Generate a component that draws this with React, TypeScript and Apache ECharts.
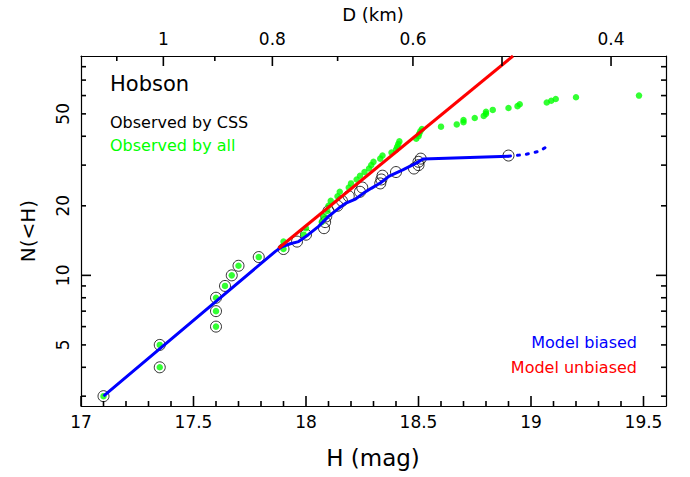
import React, { useEffect, useRef } from "react";
import * as echarts from "echarts";

// ---- axis ranges, ticks and labels ----
const X_MIN = 17;
const X_MAX = 19.6;
const Y_MIN = 2.72;
const Y_MAX = 89;
const xMajorTicks = [17, 17.5, 18, 18.5, 19, 19.5];
const xTickLabels = ["17", "17.5", "18", "18.5", "19", "19.5"];
const yLabelValues = [5, 10, 20, 50];
const yTickLabels = ["5", "10", "20", "50"];
const yMajorTicks = [10];
const yMinorTicks = [3, 4, 5, 6, 7, 8, 9, 20, 30, 40, 50, 60, 70, 80];
const dLabelValues = [1, 0.8, 0.6, 0.4];
const dTickLabels = ["1", "0.8", "0.6", "0.4"];
const dMajorTicks = [1, 0.8, 0.6, 0.5, 0.4];
const dMinorTicks = [1.1, 0.9, 0.7];
const H_AT_1KM = 17.366; // H corresponding to D = 1 km

// ---- Observed by CSS (open circles) ----
const cssH = [17.1, 17.35, 17.35, 17.6, 17.6, 17.6, 17.64, 17.67, 17.7, 17.79, 17.9, 17.96, 18.0, 18.08, 18.085, 18.09, 18.1, 18.14, 18.16, 18.19, 18.24, 18.25, 18.33, 18.335, 18.34, 18.4, 18.48, 18.5, 18.5, 18.51, 18.9];
const cssN = [3, 4, 5, 6, 7, 8, 9, 10, 11, 12, 13, 14, 15, 16, 17, 18, 19, 20, 21, 22, 23, 24, 25, 26, 27, 28, 29, 30, 31, 32, 33];

// ---- Observed by all (green dots) ----
const allH = [17.1, 17.35, 17.35, 17.6, 17.6, 17.6, 17.64, 17.67, 17.7, 17.79, 17.9, 17.9, 17.99, 18.0, 18.07, 18.08, 18.095, 18.1, 18.11, 18.14, 18.15, 18.19, 18.2, 18.225, 18.24, 18.26, 18.28, 18.29, 18.3, 18.33, 18.34, 18.38, 18.4, 18.405, 18.41, 18.415, 18.49, 18.5, 18.503, 18.508, 18.515, 18.6, 18.67, 18.7, 18.7, 18.75, 18.79, 18.8, 18.8, 18.83, 18.9, 18.94, 18.95, 19.07, 19.09, 19.11, 19.2, 19.48];
const allN = [3, 4, 5, 6, 7, 8, 9, 10, 11, 12, 13, 14, 15, 16, 17, 18, 19, 20, 21, 22, 23, 24, 25, 26, 27, 28, 29, 30, 31, 32, 33, 34, 35, 36, 37, 38, 39, 40, 41, 42, 43, 44, 45, 46, 47, 48, 49, 50, 51, 52, 53, 54, 55, 56, 57, 58, 59, 60];

// ---- Model biased (blue) ----
const biasedH = [17.1, 17.864, 17.893, 17.93, 17.967, 18.01, 18.056, 18.1, 18.145, 18.18, 18.22, 18.256, 18.29, 18.33, 18.37, 18.43, 18.49, 18.52, 18.9];
const biasedN = [3.0, 12.7, 13.3, 13.7, 14.0, 15.0, 16.3, 18.0, 19.5, 20.6, 21.4, 22.7, 23.8, 25.1, 26.9, 28.6, 30.6, 31.9, 32.8];
const biasedExtH = [18.9, 18.93, 18.97, 19.0, 19.04, 19.07];
const biasedExtN = [32.8, 33.0, 33.3, 33.8, 34.5, 36.1];

// ---- Model unbiased (red) ----
const unbiasedH = [17.878, 18.92];
const unbiasedN = [13.1, 89];

const pair = (xs: number[], ys: number[]) => xs.map((x, i) => [x, ys[i]]);
const nearestLabel = (v: number, vals: number[], labels: string[]) => {
  let best = 0;
  for (let i = 1; i < vals.length; i++) {
    if (Math.abs(vals[i] - v) < Math.abs(vals[best] - v)) best = i;
  }
  return labels[best];
};

export default function App() {
  const ref = useRef<HTMLDivElement>(null);
  useEffect(() => {
    document.body.style.margin = "0";
    const chart = echarts.init(ref.current!, null, { renderer: "svg" });
    const font = "DejaVu Sans";
    const black = "#000000";
    const lineStyle = { color: black, width: 1.2 };
    const hOfD = (d: number) => H_AT_1KM - 5 * Math.log10(d);
    const xMinorTicks: number[] = [];
    for (let k = 171; k <= 195; k++) if (k % 5 !== 0) xMinorTicks.push(k / 10);

    const MAJ = 10;
    const MIN = 5;
    // [x, y, tick length, direction]: 0 bottom(up), 1 top(down), 2 left(right), 3 right(left)
    const tickData: number[][] = [
      ...xMajorTicks.map((v) => [v, Y_MIN, MAJ, 0]),
      ...xMinorTicks.map((v) => [v, Y_MIN, MIN, 0]),
      ...dMajorTicks.map((d) => [hOfD(d), Y_MAX, MAJ, 1]),
      ...dMinorTicks.map((d) => [hOfD(d), Y_MAX, MIN, 1]),
      ...yMajorTicks.map((v) => [X_MIN, v, MAJ, 2]),
      ...yMinorTicks.map((v) => [X_MIN, v, MIN, 2]),
      ...yMajorTicks.map((v) => [X_MAX, v, MAJ, 3]),
      ...yMinorTicks.map((v) => [X_MAX, v, MIN, 3]),
    ];

    const baseX = { type: "value", min: X_MIN, max: X_MAX, splitLine: { show: false }, minorTick: { show: false } };
    const baseY = { type: "log", logBase: 10, min: Y_MIN, max: Y_MAX, splitLine: { show: false }, minorTick: { show: false } };

    const textGraphics = [
      { type: "text", x: 373, y: 14, style: { text: "D (km)", font: `18px '${font}'`, fill: black, textAlign: "center", textVerticalAlign: "middle" } },
      { type: "text", x: 373, y: 458, style: { text: "H (mag)", font: `23px '${font}'`, fill: black, textAlign: "center", textVerticalAlign: "middle" } },
      { type: "text", x: 28, y: 231, rotation: Math.PI / 2, style: { text: "N(<H)", font: `20px '${font}'`, fill: black, textAlign: "center", textVerticalAlign: "middle" } },
      { type: "text", x: 110, y: 84, style: { text: "Hobson", font: `21px '${font}'`, fill: black, textAlign: "left", textVerticalAlign: "middle" } },
      { type: "text", x: 110, y: 122, style: { text: "Observed by CSS", font: `16px '${font}'`, fill: black, textAlign: "left", textVerticalAlign: "middle" } },
      { type: "text", x: 110, y: 145, style: { text: "Observed by all", font: `16px '${font}'`, fill: "#00ff00", textAlign: "left", textVerticalAlign: "middle" } },
      { type: "text", x: 637, y: 342, style: { text: "Model biased", font: `16px '${font}'`, fill: "#0000ff", textAlign: "right", textVerticalAlign: "middle" } },
      { type: "text", x: 637, y: 367, style: { text: "Model unbiased", font: `16px '${font}'`, fill: "#ff0000", textAlign: "right", textVerticalAlign: "middle" } },
    ];

    const option: any = {
      animation: false,
      backgroundColor: "#ffffff",
      grid: { left: 81, top: 56, width: 585, height: 350, outerBoundsMode: "none", containLabel: false },
      xAxis: [
        {
          ...baseX, position: "bottom",
          axisLine: { show: true, onZero: false, lineStyle },
          axisTick: { show: false },
          axisLabel: {
            show: true, customValues: xMajorTicks, margin: 7, fontSize: 17, fontFamily: font, color: black,
            formatter: (v: number) => nearestLabel(v, xMajorTicks, xTickLabels),
          },
        },
        {
          ...baseX, position: "top",
          axisLine: { show: true, onZero: false, lineStyle },
          axisTick: { show: false },
          axisLabel: {
            show: true, customValues: dLabelValues.map(hOfD), margin: 9, fontSize: 17, fontFamily: font, color: black,
            formatter: (v: number) => nearestLabel(v, dLabelValues.map(hOfD), dTickLabels),
          },
        },
      ],
      yAxis: [
        {
          ...baseY, position: "left",
          axisLine: { show: true, onZero: false, lineStyle },
          axisTick: { show: false },
          axisLabel: {
            show: true, customValues: yLabelValues, rotate: 90, margin: 10, fontSize: 17, fontFamily: font, color: black,
            formatter: (v: number) => nearestLabel(v, yLabelValues, yTickLabels),
          },
        },
        {
          ...baseY, position: "right",
          axisLine: { show: true, onZero: false, lineStyle },
          axisTick: { show: false },
          axisLabel: { show: false },
        },
      ],
      series: [
        {
          name: "Observed by CSS", type: "scatter", xAxisIndex: 0, yAxisIndex: 0,
          data: pair(cssH, cssN), symbol: "circle", symbolSize: 11,
          itemStyle: { color: "rgba(255,255,255,0)", borderColor: black, borderWidth: 1 },
          emphasis: { disabled: true }, z: 2,
        },
        {
          name: "Observed by all", type: "scatter", xAxisIndex: 0, yAxisIndex: 0,
          data: pair(allH, allN), symbol: "circle", symbolSize: 6.5,
          itemStyle: { color: "#00ff00" }, emphasis: { disabled: true }, z: 3,
        },
        {
          name: "Model biased", type: "line", xAxisIndex: 0, yAxisIndex: 0,
          data: pair(biasedH, biasedN), showSymbol: false, symbol: "none",
          lineStyle: { color: "#0000ff", width: 3 }, z: 4,
        },
        {
          name: "Model biased (extrapolated)", type: "line", xAxisIndex: 0, yAxisIndex: 0,
          data: pair(biasedExtH, biasedExtN), showSymbol: false, symbol: "none",
          lineStyle: { color: "#0000ff", width: 3, type: [2, 7], cap: "round" }, z: 4,
        },
        {
          name: "Model unbiased", type: "line", xAxisIndex: 0, yAxisIndex: 0,
          data: pair(unbiasedH, unbiasedN), showSymbol: false, symbol: "none",
          lineStyle: { color: "#ff0000", width: 3 }, z: 5,
        },
      ],
      graphic: textGraphics,
    };
    chart.setOption(option);

    // tick marks positioned through the chart's own scales
    const tickGraphics = tickData.map(([x, y, len, dir]) => {
      const p = chart.convertToPixel({ xAxisIndex: 0, yAxisIndex: 0 }, [x, y]) as number[];
      const x1 = p[0];
      const y1 = p[1];
      let x2 = x1, y2 = y1;
      if (dir === 0) y2 -= len;
      else if (dir === 1) y2 += len;
      else if (dir === 2) x2 += len;
      else x2 -= len;
      return { type: "line", silent: true, z: 10, shape: { x1, y1, x2, y2 }, style: { stroke: black, lineWidth: 1.6 } };
    });
    chart.setOption({ graphic: [...textGraphics, ...tickGraphics] });
    return () => chart.dispose();
  }, []);
  return <div ref={ref} style={{ width: 690, height: 477 }} />;
}
